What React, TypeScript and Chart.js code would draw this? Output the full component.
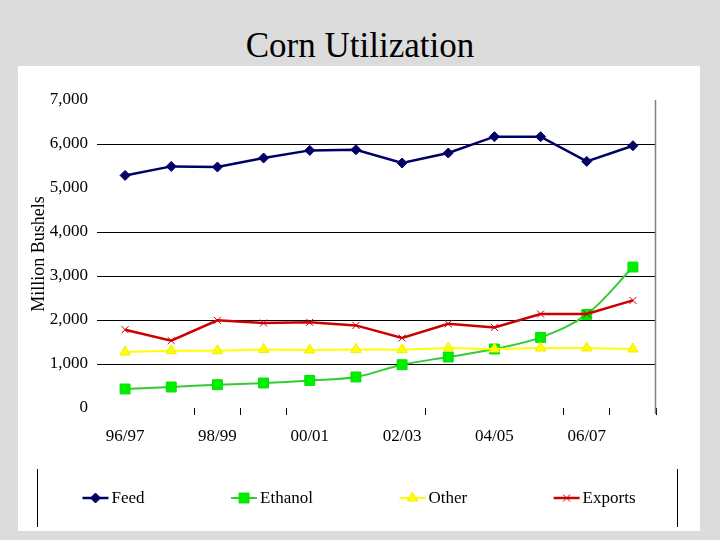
import React, { useEffect, useRef } from "react";
import { Chart, registerables } from "chart.js";
import { drawPoint } from "chart.js/helpers";

Chart.register(...registerables);

// ---- data ----
const seasons = ["96/97", "97/98", "98/99", "99/00", "00/01", "01/02", "02/03", "03/04", "04/05", "05/06", "06/07", "07/08"];
const feed = [5286, 5491, 5477, 5682, 5855, 5870, 5568, 5795, 6166, 6166, 5605, 5961];
const ethanol = [432, 477, 530, 568, 627, 705, 984, 1159, 1341, 1605, 2127, 3204];
const other = [1273, 1302, 1302, 1332, 1318, 1332, 1325, 1364, 1341, 1364, 1364, 1341];
const exportsData = [1780, 1530, 1992, 1932, 1947, 1877, 1590, 1915, 1832, 2136, 2136, 2445];
const seriesNames = ["Feed", "Ethanol", "Other", "Exports"];
const yMin = 0;
const yMax = 7000;
const yStep = 1000;
const yHiddenGrid = [0, 5000, 7000];
const xTickMarksShown = [2, 3, 4, 7, 10, 11];

const FONT = "'Liberation Serif', 'Times New Roman', serif";

const legendPlugin = {
  id: "lineLegend",
  afterDraw(chart: any) {
    const ctx = chart.ctx as CanvasRenderingContext2D;
    ctx.save();
    ctx.font = `17px ${FONT}`;
    const datasets = chart.data.datasets as any[];
    const LINE = 26, GAP = 3, SPACE = 86.5;
    const widths = datasets.map((ds) => ctx.measureText(ds.label).width);
    const total = widths.reduce((s, w) => s + LINE + GAP + w, 0) + SPACE * (datasets.length - 1);
    let x = chart.width / 2 - total / 2;
    const y = chart.height - 33;
    datasets.forEach((ds, i) => {
      ctx.beginPath();
      ctx.strokeStyle = ds.borderColor;
      ctx.lineWidth = ds.borderWidth;
      ctx.moveTo(x, y);
      ctx.lineTo(x + LINE, y);
      ctx.stroke();
      ctx.fillStyle = ds.pointBackgroundColor;
      ctx.strokeStyle = ds.pointBorderColor;
      ctx.lineWidth = ds.pointBorderWidth;
      drawPoint(ctx, { pointStyle: ds.pointStyle, radius: ds.pointRadius, rotation: 0, borderWidth: ds.pointBorderWidth } as any, x + LINE / 2, y);
      ctx.fillStyle = "#000000";
      ctx.textAlign = "left";
      ctx.textBaseline = "middle";
      ctx.fillText(ds.label, x + LINE + GAP, y + 1);
      x += LINE + GAP + widths[i] + SPACE;
    });
    // legend box side edges
    ctx.beginPath();
    ctx.strokeStyle = "#000000";
    ctx.lineWidth = 1;
    ctx.moveTo(19.5, chart.height - 62);
    ctx.lineTo(19.5, chart.height - 4);
    ctx.moveTo(chart.width - 22.5, chart.height - 62);
    ctx.lineTo(chart.width - 22.5, chart.height - 4);
    ctx.stroke();
    ctx.restore();
  },
};

const rightBorderPlugin = {
  id: "rightBorder",
  beforeDatasetsDraw(chart: any) {
    const { ctx, chartArea } = chart;
    ctx.save();
    ctx.beginPath();
    ctx.strokeStyle = "#808080";
    ctx.lineWidth = 1.5;
    const x = Math.round(chartArea.right) - 0.5;
    ctx.moveTo(x, chartArea.top);
    ctx.lineTo(x, chartArea.bottom + 6);
    ctx.stroke();
    ctx.restore();
  },
};

export default function App() {
  const ref = useRef<HTMLCanvasElement | null>(null);

  useEffect(() => {
    if (!ref.current) return;
    const chart = new Chart(ref.current, {
      type: "line",
      data: {
        labels: seasons,
        datasets: [
          {
            label: seriesNames[0],
            data: feed,
            borderColor: "#000066",
            borderWidth: 2.5,
            pointStyle: "rectRot",
            pointRadius: 5,
            pointBackgroundColor: "#000066",
            pointBorderColor: "#000066",
            pointBorderWidth: 1,
            tension: 0,
            order: 3,
          },
          {
            label: seriesNames[1],
            data: ethanol,
            borderColor: "#33cc33",
            borderWidth: 2,
            pointStyle: "rect",
            pointRadius: 7,
            pointBackgroundColor: "#00ee00",
            pointBorderColor: "#00dd00",
            pointBorderWidth: 1,
            tension: 0.35,
            order: 2,
          },
          {
            label: seriesNames[2],
            data: other,
            borderColor: "#ffff00",
            borderWidth: 2,
            pointStyle: "triangle",
            pointRadius: 6,
            pointBackgroundColor: "#ffff00",
            pointBorderColor: "#eeee00",
            pointBorderWidth: 1,
            tension: 0,
            order: 1,
          },
          {
            label: seriesNames[3],
            data: exportsData,
            borderColor: "#cc0000",
            borderWidth: 2.5,
            pointStyle: "crossRot",
            pointRadius: 5,
            pointBackgroundColor: "#cc0000",
            pointBorderColor: "#cc0000",
            pointBorderWidth: 1,
            tension: 0,
            order: 0,
          },
        ] as any,
      },
      options: {
        animation: false,
        responsive: true,
        maintainAspectRatio: false,
        layout: { padding: { top: 34, right: 44, left: 0, bottom: 0 } },
        plugins: {
          legend: { display: false },
          tooltip: { enabled: false },
          title: { display: false },
        },
        scales: {
          x: {
            type: "category",
            offset: true,
            border: { display: false },
            grid: {
              offset: true,
              drawOnChartArea: false,
              tickLength: 7,
              tickWidth: 1,
              tickColor: (c: any) =>
                c.type === "scale" || xTickMarksShown.includes(c.index) ? "#000000" : "rgba(0,0,0,0)",
            },
            ticks: {
              autoSkip: false,
              maxRotation: 0,
              padding: 11,
              color: "#000000",
              font: { family: FONT, size: 17 },
              callback: (_v: any, i: number) => (i % 2 === 0 ? seasons[i] : ""),
            },
            afterFit: (scale: any) => {
              scale.height = 123;
            },
          },
          y: {
            min: yMin,
            max: yMax,
            border: { display: false },
            grid: {
              color: (c: any) => (c.tick && yHiddenGrid.includes(c.tick.value) ? "rgba(0,0,0,0)" : "#000000"),
              tickColor: (c: any) => (c.tick && yHiddenGrid.includes(c.tick.value) ? "rgba(0,0,0,0)" : "#000000"),
              tickLength: 5,
              lineWidth: 1,
            },
            ticks: {
              stepSize: yStep,
              padding: 9,
              color: "#000000",
              font: { family: FONT, size: 17 },
              callback: (v: any) => Number(v).toLocaleString("en-US"),
            },
            title: {
              display: true,
              text: "Million Bushels",
              color: "#000000",
              font: { family: FONT, size: 18 },
              padding: { top: 10, bottom: 0 },
            },
            afterFit: (scale: any) => {
              scale.width = 84;
            },
          },
        },
      } as any,
      plugins: [legendPlugin, rightBorderPlugin],
    });
    return () => chart.destroy();
  }, []);

  return (
    <div style={{ position: "fixed", left: 0, top: 0, width: 720, height: 540, background: "#dcdcdc", overflow: "hidden" }}>
      <div
        style={{
          position: "absolute",
          left: 0,
          top: 28,
          width: 720,
          textAlign: "center",
          fontFamily: FONT,
          fontSize: 35,
          lineHeight: "35px",
          color: "#000000",
        }}
      >
        Corn Utilization
      </div>
      <div style={{ position: "absolute", left: 18, top: 66, width: 682, height: 465, background: "#ffffff" }}>
        <canvas ref={ref} />
      </div>
    </div>
  );
}
